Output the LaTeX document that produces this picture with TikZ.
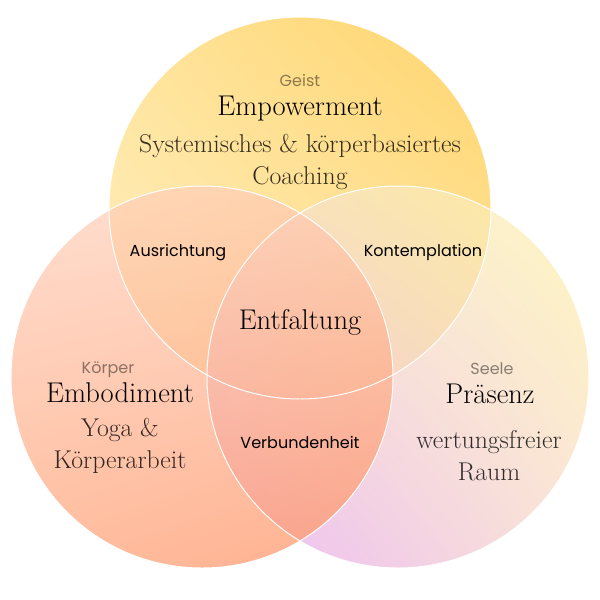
\documentclass[tikz,border=0pt]{standalone}
\usepackage{fontspec}
\usepackage{xcolor}
\usepackage{tikz}
\usetikzlibrary{shadings}
\newfontfamily\labelfont{Poppins}

\definecolor{geistUL}{HTML}{FFE49C}
\definecolor{geistUR}{HTML}{FFD46A}
\definecolor{geistLL}{HTML}{FEEFC4}
\definecolor{geistLR}{HTML}{FFE6A4}
\definecolor{seeleUL}{HTML}{F5DED4}
\definecolor{seeleUR}{HTML}{FEF5A8}
\definecolor{seeleLL}{HTML}{E4A0F0}
\definecolor{seeleLR}{HTML}{F8D8C8}
\definecolor{koerperUL}{HTML}{FFD2BE}
\definecolor{koerperUR}{HTML}{FFCCB4}
\definecolor{koerperLL}{HTML}{FFA47A}
\definecolor{koerperLR}{HTML}{FF9060}

\begin{document}
\begin{tikzpicture}[x=0.025cm,y=-0.025cm,
          rim/.style={draw=white,line width=0.7pt},
          head/.style={font=\fontsize{20.3}{24}\selectfont,anchor=base},
          sub/.style={font=\fontsize{18.3}{22.7}\selectfont,align=center,text opacity=.8},
          tag/.style={font=\labelfont\fontsize{11.4}{13}\selectfont,anchor=base,text opacity=.45},
          zone/.style={font=\labelfont\fontsize{11.4}{13}\selectfont,anchor=base}]
        \useasboundingbox (0,0) rectangle (600,600);
        \coordinate (geist)   at (300,208);
        \coordinate (koerper) at (202,377);
        \coordinate (seele)   at (398,377);
        % the three circles
        \shade[upper left=geistUL,upper right=geistUR,lower left=geistLL,lower right=geistLR]
          (geist) circle[radius=191];
        \shade[fill opacity=.72,upper left=seeleUL,upper right=seeleUR,lower left=seeleLL,lower right=seeleLR]
          (seele) circle[radius=191];
        \shade[fill opacity=.72,upper left=koerperUL,upper right=koerperUR,lower left=koerperLL,lower right=koerperLR]
          (koerper) circle[radius=191];
        \foreach \c in {geist,seele,koerper}
          \draw[rim] (\c) circle[radius=191];
        % Geist
        \node[tag]  (geisttag)  at (300,86)  {Geist};
        \node[head] (geisthead) at (300,115) {Empowerment};
        \node[sub]  (geistsub)  at (300,162) {Systemisches \& körperbasiertes\\Coaching};
        % Körper
        \node[tag]  (koerpertag)  at (108,373) {Körper};
        \node[head] (koerperhead) at (120,402) {Embodiment};
        \node[sub]  (koerpersub)  at (120,446) {Yoga \&\\Körperarbeit};
        % Seele
        \node[tag]  (seeletag)  at (492,374) {Seele};
        \node[head] (seelehead) at (490,403) {Präsenz};
        \node[sub]  (seelesub)  at (489,456) {wertungsfreier\\Raum};
        % overlaps
        \node[zone] (ausrichtung)   at (178,256) {Ausrichtung};
        \node[zone] (kontemplation) at (423,256) {Kontemplation};
        \node[zone] (verbundenheit) at (300,448) {Verbundenheit};
        \node[head] (entfaltung)    at (300,329) {Entfaltung};
      \end{tikzpicture}
\end{document}
